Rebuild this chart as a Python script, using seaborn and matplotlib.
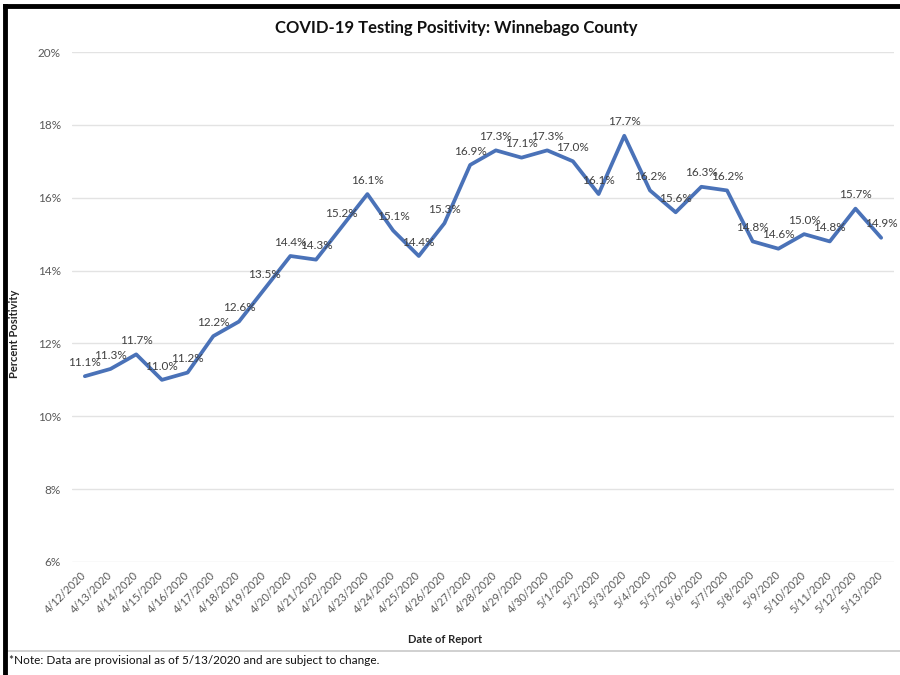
import matplotlib
matplotlib.use('Agg')
import matplotlib.pyplot as plt
import matplotlib.lines as mlines
import seaborn as sns
import pandas as pd

# data
dates = ['4/12/2020', '4/13/2020', '4/14/2020', '4/15/2020', '4/16/2020', '4/17/2020',
         '4/18/2020', '4/19/2020', '4/20/2020', '4/21/2020', '4/22/2020', '4/23/2020',
         '4/24/2020', '4/25/2020', '4/26/2020', '4/27/2020', '4/28/2020', '4/29/2020',
         '4/30/2020', '5/1/2020', '5/2/2020', '5/3/2020', '5/4/2020', '5/5/2020',
         '5/6/2020', '5/7/2020', '5/8/2020', '5/9/2020', '5/10/2020', '5/11/2020',
         '5/12/2020', '5/13/2020']
positivity = [11.1, 11.3, 11.7, 11.0, 11.2, 12.2, 12.6, 13.5, 14.4, 14.3, 15.2, 16.1,
              15.1, 14.4, 15.3, 16.9, 17.3, 17.1, 17.3, 17.0, 16.1, 17.7, 16.2, 15.6,
              16.3, 16.2, 14.8, 14.6, 15.0, 14.8, 15.7, 14.9]
y_ticks = [6, 8, 10, 12, 14, 16, 18, 20]

df = pd.DataFrame({'idx': range(len(dates)), 'date': dates, 'pct': positivity})

sns.set_theme(style='white')
plt.rcParams['font.family'] = ['Lato', 'DejaVu Sans']

fig = plt.figure(figsize=(9, 6.75), dpi=100)
ax = fig.add_axes([72 / 900, 1 - 562 / 675, 822 / 900, 510 / 675])

sns.lineplot(data=df, x='idx', y='pct', ax=ax, color='#4a72b8', linewidth=2.7)

for i, v in zip(df['idx'], df['pct']):
    ax.annotate(f'{v:.1f}%', (i, v), xytext=(0, 6), textcoords='offset points',
                ha='center', va='bottom', fontsize=8.5, color='#404040')

ax.set_xlim(-0.5, len(dates) - 0.5)
ax.set_ylim(6, 20)
ax.set_yticks(y_ticks)
ax.set_yticklabels([f'{t}%' for t in y_ticks], fontsize=8.5, color='#595959')
ax.set_xticks(df['idx'])
ax.set_xticklabels(dates, rotation=45, fontsize=7.8, color='#595959',
                   ha='right', va='center', rotation_mode='anchor')
ax.tick_params(axis='y', length=0, pad=8)
ax.tick_params(axis='x', length=0, pad=8)
ax.yaxis.grid(True, color='#e3e3e3', linewidth=1)
for s in ax.spines.values():
    s.set_visible(False)

ax.set_xlabel('Date of Report', fontsize=8, fontweight='bold', color='#262626')
ax.xaxis.set_label_coords((445 - 72) / 822, -(634 - 562) / 510)
ax.set_ylabel('Percent Positivity', fontsize=8, fontweight='bold', color='#262626')
ax.yaxis.set_label_coords((20 - 72) / 822, (562 - 334) / 510)

fig.text(456 / 900, 1 - 28 / 675, 'COVID-19 Testing Positivity: Winnebago County',
         ha='center', va='center', fontsize=12, fontweight='bold', color='#111111')
fig.text(9 / 900, 1 - 661 / 675, '*Note: Data are provisional as of 5/13/2020 and are subject to change.',
         ha='left', va='center', fontsize=8.5, color='#111111')

# frame lines around the chart (gray separator above the note, black outer border)
fig.add_artist(mlines.Line2D([8 / 900, 1], [1 - 651 / 675] * 2, transform=fig.transFigure,
                             color='#c8c8c8', linewidth=1.2))
fig.add_artist(mlines.Line2D([5 / 900, 5 / 900], [0, 1 - 6 / 675], transform=fig.transFigure,
                             color='black', linewidth=3.5, solid_capstyle='projecting'))
fig.add_artist(mlines.Line2D([5 / 900, 1], [1 - 6 / 675] * 2, transform=fig.transFigure,
                             color='black', linewidth=3.5, solid_capstyle='projecting'))

fig.savefig('out.png', dpi=100)
